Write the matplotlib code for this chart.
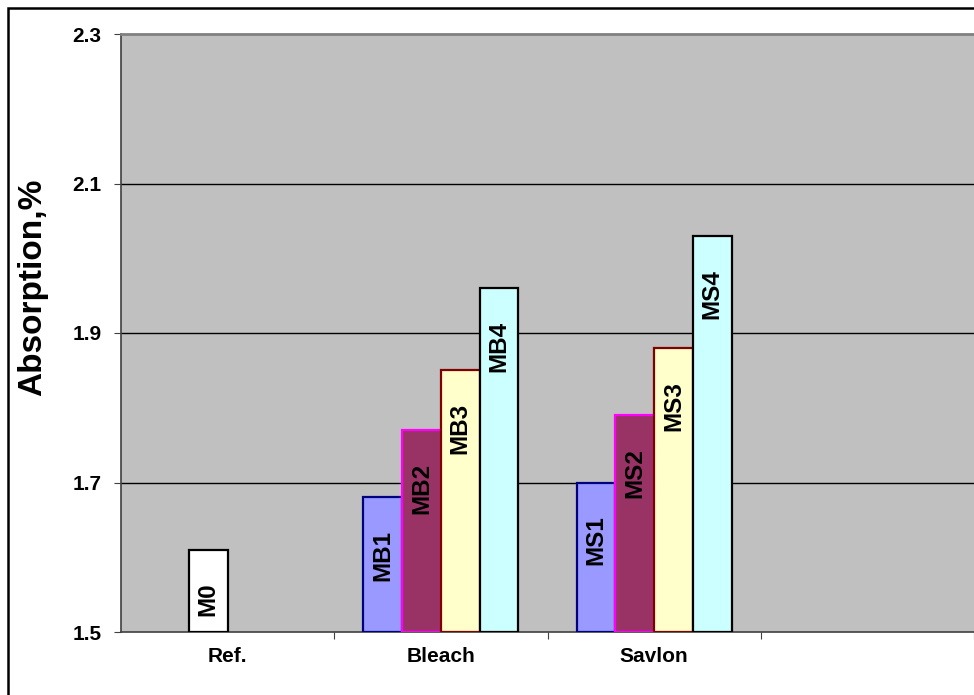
import numpy as np
import matplotlib.pyplot as plt
from matplotlib.patches import Rectangle

# data
categories = ['Ref.', 'Bleach', 'Savlon', '']
ref_label = 'M0'
ref_value = 1.61
bleach_labels = ['MB1', 'MB2', 'MB3', 'MB4']
bleach_values = [1.68, 1.77, 1.85, 1.96]
savlon_labels = ['MS1', 'MS2', 'MS3', 'MS4']
savlon_values = [1.70, 1.79, 1.88, 2.03]
yticks = [1.5, 1.7, 1.9, 2.1, 2.3]

fills = ['#9999FF', '#993366', '#FFFFCC', '#CCFFFF']
edges = ['#000080', '#FF00FF', '#800000', '#000000']

plt.rcParams['font.family'] = ['Liberation Sans', 'DejaVu Sans']
plt.rcParams['font.weight'] = 'bold'

fig = plt.figure(figsize=(9.74, 6.95), dpi=100)
ax = fig.add_axes([121 / 974, 63 / 695, 853 / 974, 598 / 695])
ax.set_facecolor('#C0C0C0')

w = 0.1817
offsets = (np.arange(4) - 1.5) * w
x = np.arange(len(categories))


def label_bar(xpos, val, text):
    ax.annotate(text, (xpos, val), xytext=(0, -33), textcoords='offset pixels',
                rotation=90, ha='center', va='top', fontsize=17.5,
                fontweight='bold', color='black', zorder=5)


# reference bar sits in the 2nd slot
ax.bar(x[0] + offsets[1], ref_value - 1.5, w, bottom=1.5, color='white',
       edgecolor='black', linewidth=1.6, zorder=3)
label_bar(x[0] + offsets[1], ref_value, ref_label)

for i in range(4):
    for ci, vals, labs in [(1, bleach_values, bleach_labels), (2, savlon_values, savlon_labels)]:
        ax.bar(x[ci] + offsets[i], vals[i] - 1.5, w, bottom=1.5, color=fills[i],
               edgecolor=edges[i], linewidth=1.6, zorder=3)
        label_bar(x[ci] + offsets[i], vals[i], labs[i])

ax.set_ylim(1.5, 2.3)
ax.set_xlim(-0.5, -0.5 + 853 / 216)
ax.set_yticks(yticks)
ax.set_yticklabels([f'{v:.1f}' for v in yticks], fontsize=15, fontweight='bold')
for v in yticks[1:-1]:
    ax.axhline(v, color='black', linewidth=1.0, zorder=1)

# category boundaries as ticks, names centred between them
ax.set_xticks(np.arange(len(categories)) + 0.5)
ax.set_xticklabels([])
ax.set_xticks(x, minor=True)
ax.set_xticklabels(categories, minor=True, fontsize=15, fontweight='bold')
ax.tick_params(axis='x', which='major', length=5, color='#404040', direction='out')
ax.tick_params(axis='x', which='minor', length=0, pad=11)
ax.tick_params(axis='y', length=5, color='#404040', pad=9)

ax.spines['right'].set_visible(False)
ax.spines['top'].set_color('#808080')
ax.spines['top'].set_linewidth(2)
ax.spines['left'].set_color('#404040')
ax.spines['bottom'].set_color('#404040')
ax.spines['left'].set_linewidth(1.2)
ax.spines['bottom'].set_linewidth(1.2)

fig.text(33 / 974, 1 - 287 / 695, 'Absorption,%', rotation=90, ha='center',
         va='center', fontsize=24, fontweight='bold')

# outer chart border (cropped on the right and bottom)
fig.add_artist(Rectangle((8 / 974, -0.5), 2, 1.5 - 8 / 695, transform=fig.transFigure,
                         fill=False, edgecolor='black', linewidth=1.8))

fig.savefig('out.png', dpi=100)
